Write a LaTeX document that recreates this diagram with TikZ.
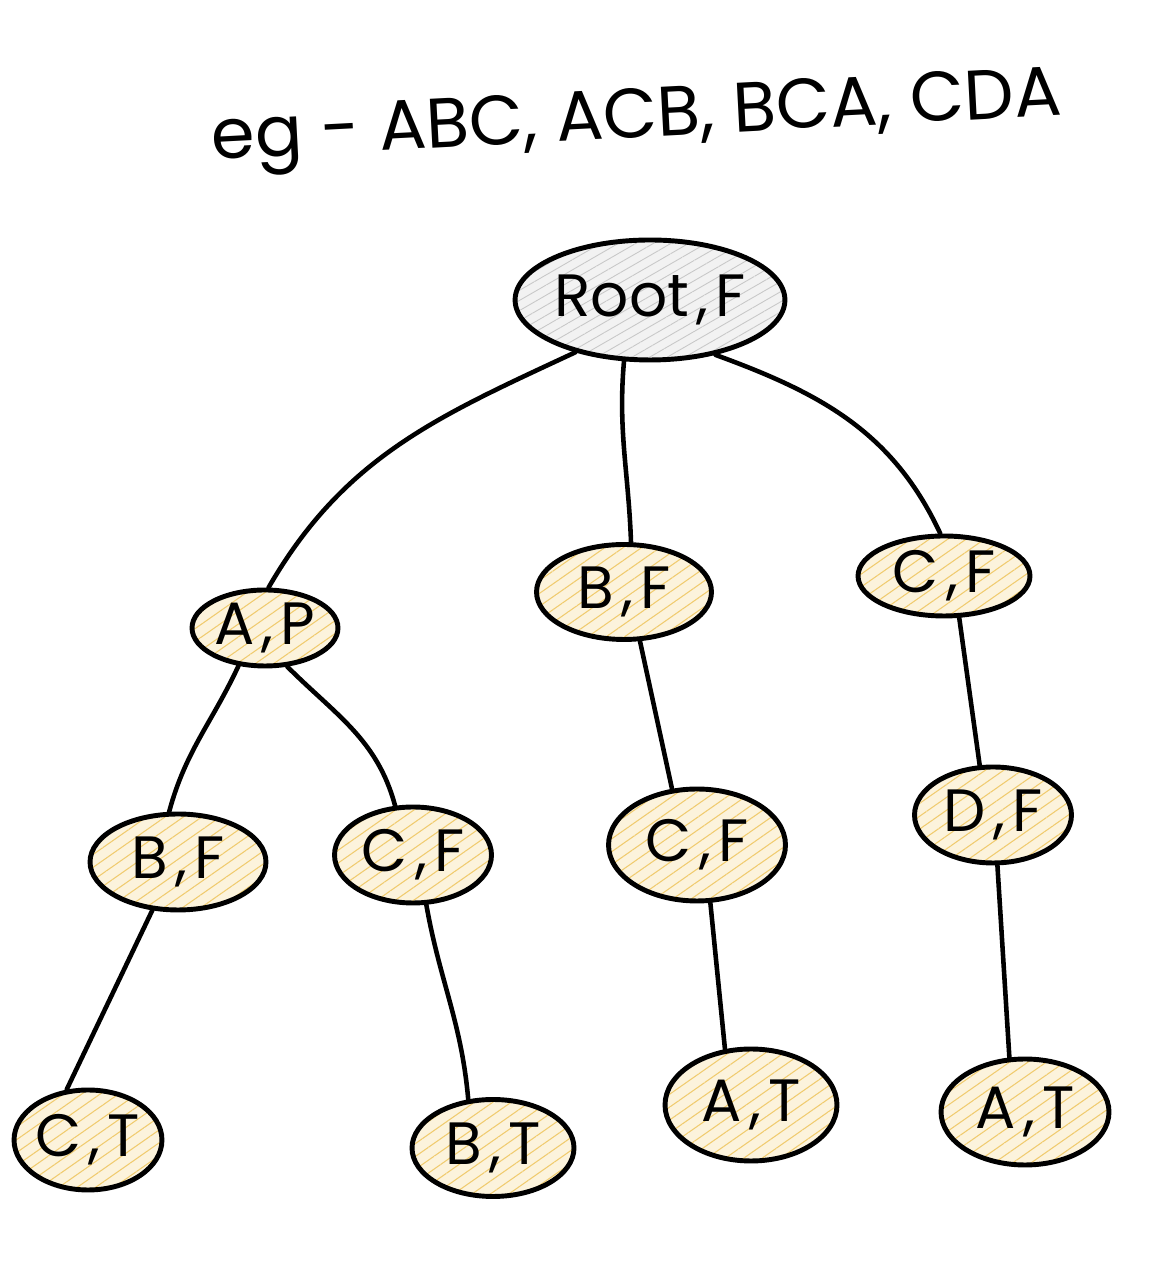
\documentclass[tikz,border=0pt]{standalone}
\usepackage{fontspec}
\setmainfont{Poppins}
\usetikzlibrary{shapes.geometric,patterns.meta}
\definecolor{ylw}{HTML}{FCF3DC}
\definecolor{ylwline}{HTML}{F0CB6E}
\definecolor{gryfill}{HTML}{F2F2F2}
\definecolor{gryline}{HTML}{C8C8C8}
\newcommand\sepcomma{\kern0.12em,\kern0.12em}
\begin{document}
\begin{tikzpicture}[x=0.02cm,y=0.02cm,
  basenode/.style={ellipse, draw, line width=2.8pt, inner sep=0pt,
    font=\fontsize{34}{38}\selectfont},
  tnode/.style={basenode,
    preaction={fill=ylw},
    preaction={pattern={Lines[angle=35,distance=6pt,line width=0.6pt]}, pattern color=ylwline}},
  rootnode/.style={basenode,
    preaction={fill=gryfill},
    preaction={pattern={Lines[angle=30,distance=5pt,line width=0.5pt]}, pattern color=gryline}},
  edge/.style={line width=2.6pt, line cap=round}
]
\fill[white] (0,0) rectangle (1158,1280);
\useasboundingbox (0,0) rectangle (1158,1280);

\node[rotate=3, font=\fontsize{40}{44}\selectfont] (title) at (637,1158) {eg -\ ABC, ACB, BCA, CDA};

\node[rootnode, minimum width=5.3cm, minimum height=2.4cm] (root) at (650,980) {Root\sepcomma F};

\node[tnode, minimum width=2.92cm, minimum height=1.52cm] (A) at (265,652) {A\sepcomma P};
\node[tnode, minimum width=3.5cm, minimum height=1.9cm] (BM) at (624,688) {B\sepcomma F};
\node[tnode, minimum width=3.44cm, minimum height=1.6cm] (CR) at (944,704) {C\sepcomma F};

\node[tnode, minimum width=3.52cm, minimum height=1.92cm] (BL) at (178,418) {B\sepcomma F};
\node[tnode, minimum width=3.14cm, minimum height=1.92cm] (CL) at (413,425) {C\sepcomma F};
\node[tnode, minimum width=3.54cm, minimum height=2.24cm] (CM) at (697,435) {C\sepcomma F};
\node[tnode, minimum width=3.14cm, minimum height=1.92cm] (DF) at (993,465) {D\sepcomma F};

\node[tnode, minimum width=2.9cm, minimum height=2.0cm] (CT) at (88,140) {C\sepcomma T};
\node[tnode, minimum width=3.24cm, minimum height=1.94cm] (BT) at (493,132) {B\sepcomma T};
\node[tnode, minimum width=3.44cm, minimum height=2.24cm] (AT) at (751,175) {A\sepcomma T};
\node[tnode, minimum width=3.36cm, minimum height=2.12cm] (ATR) at (1025,168) {A\sepcomma T};

\draw[edge] (root.215) to[out=205,in=60] (A.85);
\draw[edge] (root.247) to[out=265,in=92] (BM.82);
\draw[edge] (root.320) to[out=-20,in=115] (CR.95);
\draw[edge] (A.235) to[out=245,in=75] (BL.100);
\draw[edge] (A.300) to[out=-45,in=105] (CL.110);
\draw[edge] (BL.242) -- (CT.113);
\draw[edge] (CL.285) to[out=-80,in=95] (BT.117);
\draw[edge] (BM.288) -- (CM.114);
\draw[edge] (CM.283) -- (AT.115);
\draw[edge] (CR.290) -- (DF.105);
\draw[edge] (DF.275) -- (ATR.106);
\end{tikzpicture}
\end{document}
